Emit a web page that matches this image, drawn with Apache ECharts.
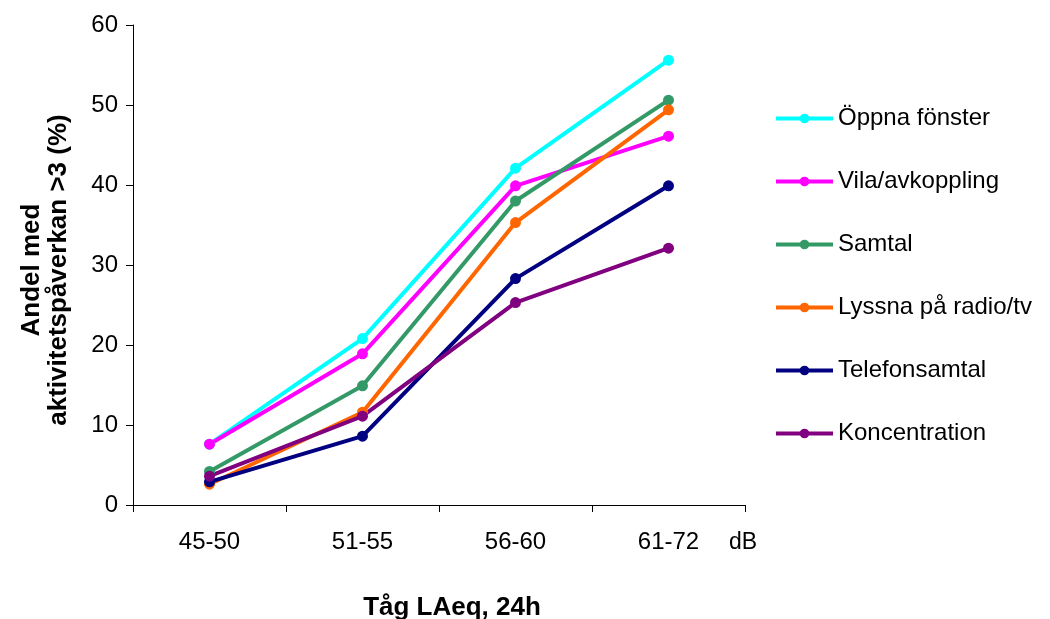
<!DOCTYPE html>
<html>
<head>
<meta charset="utf-8">
<script src="https://cdn.jsdelivr.net/npm/echarts@6/dist/echarts.min.js"></script>
<style>
    html, body { margin: 0; padding: 0; background: #fff; }
    #chart { width: 1050px; height: 619px; }
</style>
</head>
<body>
<div id="chart"></div>
<script>
const categories = ['45-50', '51-55', '56-60', '61-72'];
const oppnaFonster = [7.6, 20.8, 42.1, 55.6];
const vilaAvkoppling = [7.6, 18.9, 39.9, 46.1];
const samtal = [4.2, 14.9, 38.0, 50.6];
const lyssnaRadio = [2.6, 11.6, 35.3, 49.4];
const telefonsamtal = [2.9, 8.6, 28.3, 39.9];
const koncentration = [3.6, 11.1, 25.3, 32.1];
const yTicks = [0, 10, 20, 30, 40, 50, 60];

const font = 'Liberation Sans, Arial, sans-serif';
const chart = echarts.init(document.getElementById('chart'));

const mk = (name, data, color) => ({
    name: name,
    type: 'line',
    data: data,
    symbol: 'circle',
    symbolSize: 11,
    lineStyle: { width: 4, color: color },
    itemStyle: { color: color },
    emphasis: { disabled: true },
    animation: false
});

const option = {
    backgroundColor: '#fff',
    textStyle: { fontFamily: font },
    title: {
        text: 'dB',
        left: 724,
        top: 526,
        textStyle: { fontSize: 23, fontWeight: 'normal', color: '#000', fontFamily: font }
    },
    grid: { left: 133, right: 305, top: 25, bottom: 114, containLabel: false, outerBoundsMode: 'none' },
    legend: {
        orient: 'vertical',
        left: 774,
        top: 106,
        padding: 0,
        itemWidth: 57,
        itemHeight: 12,
        itemGap: 38,
        lineStyle: { width: 4 },
        textStyle: { fontSize: 24, color: '#000', fontFamily: font, lineHeight: 25 },
        data: ['Öppna fönster', 'Vila/avkoppling', 'Samtal', 'Lyssna på radio/tv', 'Telefonsamtal', 'Koncentration']
    },
    xAxis: {
        type: 'category',
        data: categories,
        boundaryGap: true,
        name: 'Tåg LAeq, 24h',
        nameLocation: 'middle',
        nameGap: 90,
        nameTextStyle: { fontSize: 26, fontWeight: 'bold', color: '#000', padding: [0, 0, 0, 26] },
        axisLine: { lineStyle: { color: '#000', width: 1 } },
        axisTick: { show: true, length: 7, lineStyle: { color: '#000' } },
        axisLabel: { fontSize: 24, color: '#000', margin: 25 },
        splitLine: { show: false }
    },
    yAxis: {
        type: 'value',
        min: yTicks[0],
        max: yTicks[yTicks.length - 1],
        interval: 10,
        name: 'Andel med\naktivitetspåverkan >3 (%)',
        nameLocation: 'middle',
        nameGap: 61,
        nameTextStyle: { fontSize: 26, fontWeight: 'bold', color: '#000', lineHeight: 27, align: 'center', padding: [0, 10, 0, 0] },
        axisLine: { show: true, lineStyle: { color: '#000', width: 1 } },
        axisTick: { show: true, length: 7, lineStyle: { color: '#000' } },
        axisLabel: { fontSize: 24, color: '#000', margin: 15 },
        splitLine: { show: false }
    },
    series: [
        mk('Öppna fönster', oppnaFonster, '#00FFFF'),
        mk('Vila/avkoppling', vilaAvkoppling, '#FF00FF'),
        mk('Samtal', samtal, '#339966'),
        mk('Lyssna på radio/tv', lyssnaRadio, '#FF6600'),
        mk('Telefonsamtal', telefonsamtal, '#000080'),
        mk('Koncentration', koncentration, '#800080')
    ]
};

chart.setOption(option);
</script>
</body>
</html>
